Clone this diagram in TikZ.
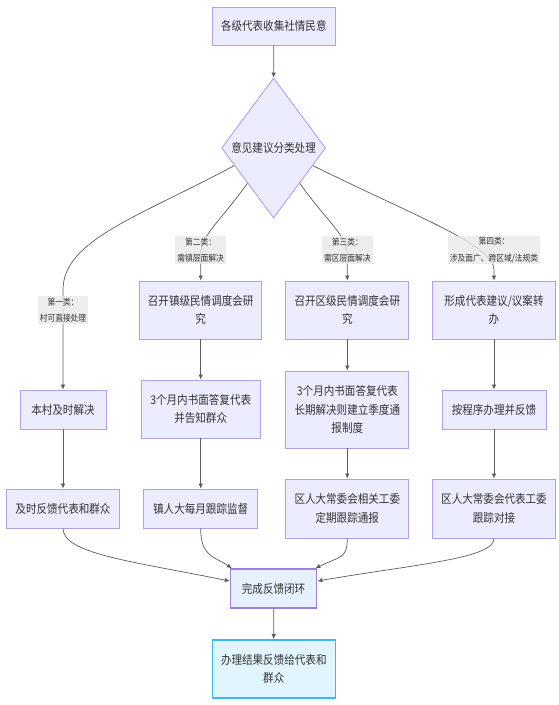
\documentclass[tikz,border=0pt]{standalone}
\usepackage{fontspec}
\newfontfamily\cjk[FakeStretch=0.88]{Noto Sans CJK SC}
\usetikzlibrary{arrows.meta,calc,shapes.geometric}
\definecolor{ink}{HTML}{333333}
\definecolor{linkline}{HTML}{5C5C5C}
\definecolor{boxfill}{HTML}{ECECFF}
\definecolor{boxline}{HTML}{B19FEB}
\definecolor{doneline}{HTML}{9C7FE0}
\definecolor{donefill}{HTML}{E6F1FD}
\definecolor{endfill}{HTML}{E1F5FE}
\definecolor{endline}{HTML}{3DB7F2}
\definecolor{tagfill}{HTML}{E8E8E8}
\tikzset{
  block/.style={
    draw=boxline,
    fill=boxfill,
    line width=0.9pt,
    inner sep=0pt,
    align=center,
    text=ink,
    font=\cjk\fontsize{12}{18.6}\selectfont
  },
  choice/.style={
    block,
    diamond,
    aspect=0.74
  },
  wire/.style={
    draw=linkline,
    line width=0.7pt,
    -{Latex[length=5pt,width=4.5pt]}
  },
  tag/.style={
    fill=tagfill,
    fill opacity=0.8,
    text opacity=1,
    text=ink,
    inner xsep=2pt,
    inner ysep=1.5pt,
    align=center,
    font=\cjk\fontsize{8.8}{16.5}\selectfont
  }
}

\begin{document}
\begin{tikzpicture}[x=1pt,y=-1pt]
  \path[use as bounding box] (0,0) rectangle (558,705);

  \node[block, minimum width=123pt, minimum height=38pt] (collect) at (273.8,26)
    {各级代表收集社情民意};
  \node[choice, minimum width=104pt, minimum height=140pt] (sort) at (273.6,148)
    {意见建议分类处理};

  \node[block, minimum width=86pt, minimum height=39pt] (village) at (63,409.5)
    {本村及时解决};
  \node[block, minimum width=113pt, minimum height=39pt] (villageback) at (63,508.5)
    {及时反馈代表和群众};

  \node[block, minimum width=122pt, minimum height=58pt] (townmeet) at (200.7,310)
    {召开镇级民情调度会研\\究};
  \node[block, minimum width=119pt, minimum height=58pt] (townreply) at (200.7,409)
    {3个月内书面答复代表\\并告知群众};
  \node[block, minimum width=114pt, minimum height=39pt] (townwatch) at (200.7,508.5)
    {镇人大每月跟踪监督};

  \node[block, minimum width=123pt, minimum height=58pt] (distmeet) at (347.3,310)
    {召开区级民情调度会研\\究};
  \node[block, minimum width=123pt, minimum height=77pt] (distreply) at (347.3,409.5)
    {3个月内书面答复代表\\长期解决则建立季度通\\报制度};
  \node[block, minimum width=123pt, minimum height=59pt] (distwatch) at (347.3,508.5)
    {区人大常委会相关工委\\定期跟踪通报};

  \node[block, minimum width=123pt, minimum height=58pt] (motion) at (494,310)
    {形成代表建议/议案转\\办};
  \node[block, minimum width=104pt, minimum height=39pt] (procedure) at (494,409.5)
    {按程序办理并反馈};
  \node[block, minimum width=123pt, minimum height=59pt] (liaison) at (494,508.5)
    {区人大常委会代表工委\\跟踪对接};

  \node[block, draw=doneline, fill=donefill, line width=1.6pt,
    minimum width=86pt, minimum height=39pt] (done) at (273.6,588.5)
    {完成反馈闭环};
  \node[block, draw=endline, fill=endfill, line width=1.6pt,
    minimum width=123pt, minimum height=58pt] (result) at (273.8,669)
    {办理结果反馈给代表和\\群众};

  \draw[wire] (collect.south) -- (sort.north);

  \draw[wire] ($(sort.west)!0.25!(sort.south)$)
    .. controls (138.6,217) and (63,240) .. (63,290) -- (village.north);
  \draw[wire] (sort.south west)
    .. controls (220,222) and (200.7,235) .. (200.7,255) -- (townmeet.north);
  \draw[wire] (sort.south east)
    .. controls (327,222) and (347.3,235) .. (347.3,255) -- (distmeet.north);
  \draw[wire] ($(sort.east)!0.25!(sort.south)$)
    .. controls (416.6,217) and (494,245) .. (494,270) -- (motion.north);

  \node[tag] (firstcase) at (63,310) {第一类：\\村可直接处理};
  \node[tag] (secondcase) at (200.7,250) {第二类：\\需镇层面解决};
  \node[tag] (thirdcase) at (347.3,250) {第三类：\\需区层面解决};
  \node[tag] (fourthcase) at (494,250) {第四类：\\涉及面广、跨区域/法规类};

  \draw[wire] (village) -- (villageback);
  \draw[wire] (townmeet) -- (townreply);
  \draw[wire] (townreply) -- (townwatch);
  \draw[wire] (distmeet) -- (distreply);
  \draw[wire] (distreply) -- (distwatch);
  \draw[wire] (motion) -- (procedure);
  \draw[wire] (procedure) -- (liaison);

  \draw[wire] (villageback.south)
    .. controls +(0,25) and +(-100,-20) .. ($(done.west)+(0,-7.5)$);
  \draw[wire] (townwatch.south)
    .. controls +(0,28) and +(-18,-12) .. ($(done.north west)+(2,0)$);
  \draw[wire] (distwatch.south)
    .. controls +(0,20) and +(25,-12) .. ($(done.north east)+(-2,0)$);
  \draw[wire] (liaison.south)
    .. controls +(0,20) and +(100,-17) .. ($(done.east)+(0,-7.5)$);

  \draw[wire] (done) -- (result);
\end{tikzpicture}
\end{document}
